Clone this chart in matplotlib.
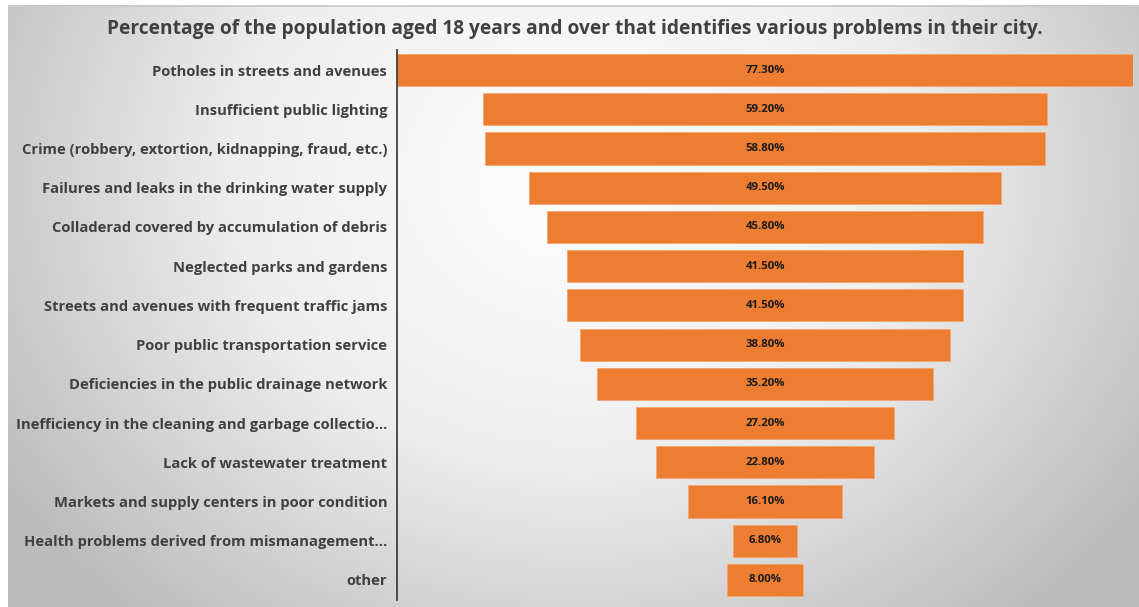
import numpy as np
import matplotlib.pyplot as plt
from matplotlib.colors import LinearSegmentedColormap

problems = [
    "Potholes in streets and avenues",
    "Insufficient public lighting",
    "Crime (robbery, extortion, kidnapping, fraud, etc.)",
    "Failures and leaks in the drinking water supply",
    "Colladerad covered by accumulation of debris",
    "Neglected parks and gardens",
    "Streets and avenues with frequent traffic jams",
    "Poor public transportation service",
    "Deficiencies in the public drainage network",
    "Inefficiency in the cleaning and garbage collectio...",
    "Lack of wastewater treatment",
    "Markets and supply centers in poor condition",
    "Health problems derived from mismanagement...",
    "other",
]
percent = [77.3, 59.2, 58.8, 49.5, 45.8, 41.5, 41.5, 38.8, 35.2, 27.2, 22.8, 16.1, 6.8, 8.0]

W, H = 1139, 607
fig = plt.figure(figsize=(W / 100, H / 100), dpi=100)
fig.patch.set_facecolor("white")

# radial grey background behind the chart
bg = fig.add_axes([8 / W, 0, 1 - 8 / W, 1 - 5 / H], zorder=0)
yy, xx = np.mgrid[0:602, 0:1131]
r = np.hypot((xx - 570) / 1.0, (yy - 170) / 0.85)
r = np.clip(r / 680, 0, 1)
cmap = LinearSegmentedColormap.from_list("bg", ["#ffffff", "#eeeeee", "#bcbcbc"])
bg.imshow(r, cmap=cmap, aspect="auto", interpolation="bilinear")
bg.axhline(0, color="#c8c8c8", lw=1.2)
bg.axis("off")

ax = fig.add_axes([397 / W, 7.4 / H, (1133 - 397) / W, (599.6 - 50.4) / H], zorder=1)
ax.patch.set_alpha(0)
y = np.arange(len(percent))
pct = np.array(percent)
ax.barh(y, pct, left=-pct / 2, height=0.82, color="#ED7D31", edgecolor="#F4A573", linewidth=0.6)
for i, v in enumerate(percent):
    ax.text(0, i, f"{v:.2f}%", ha="center", va="center", fontsize=8.2,
            fontweight="bold", color="#1a1a1a", family="Open Sans")

ax.set_xlim(-percent[0] / 2, percent[0] / 2)
ax.set_ylim(len(percent) - 0.5, -0.5)
ax.set_yticks(y)
ax.set_yticklabels(problems, fontsize=10.6, fontweight="bold", color="#404040", family="Open Sans")
ax.tick_params(axis="y", length=0, pad=7)
ax.set_xticks([])
for s in ["top", "right", "bottom"]:
    ax.spines[s].set_visible(False)
ax.spines["left"].set_color("#404040")
ax.spines["left"].set_linewidth(1.3)

fig.text(575 / W, 1 - 29 / H,
         "Percentage of the population aged 18 years and over that identifies various problems in their city.",
         ha="center", va="center", fontsize=13.8, fontweight="bold", color="#404040", family="Open Sans")

fig.savefig("out.png", dpi=100)
